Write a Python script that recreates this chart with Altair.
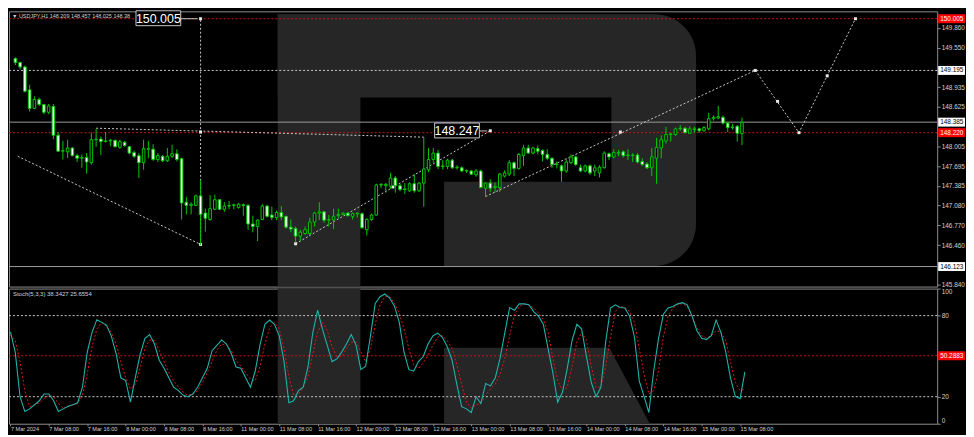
import json
import altair as alt
import pandas as pd

# ---------------- data ----------------
opens = [149.38, 149.32, 149.25, 148.89, 148.60, 148.74, 148.66, 148.54, 148.63, 148.18,
         147.93, 147.92, 147.98, 147.86, 147.82, 147.83, 147.75, 148.11, 148.12, 148.08,
         148.09, 148.10, 147.99, 148.07, 148.00, 147.91, 147.86, 147.75, 147.96, 147.96,
         147.80, 147.85, 147.78, 147.85, 147.89, 147.81, 147.13, 147.08, 147.08, 147.23,
         146.96, 146.86, 147.02, 147.17, 147.02, 147.07, 147.08, 147.05, 147.09, 147.08,
         146.79, 146.75, 146.86, 147.07, 146.93, 146.89, 146.97, 146.91, 146.74, 146.72,
         146.60, 146.64, 146.64, 146.82, 146.96, 146.98, 146.85, 146.85, 146.92, 146.94,
         146.96, 146.91, 146.95, 146.95, 146.70, 146.86, 146.93, 147.40, 147.39, 147.38,
         147.51, 147.39, 147.33, 147.31, 147.42, 147.31, 147.43, 147.64, 147.80, 147.90,
         147.69, 147.69, 147.79, 147.67, 147.67, 147.62, 147.62, 147.56, 147.62, 147.35,
         147.43, 147.36, 147.36, 147.54, 147.57, 147.75, 147.66, 147.86, 147.98, 147.90,
         147.97, 147.94, 147.88, 147.82, 147.72, 147.70, 147.62, 147.75, 147.84, 147.67,
         147.62, 147.70, 147.62, 147.59, 147.67, 147.89, 147.84, 147.89, 147.92, 147.86,
         147.86, 147.87, 147.77, 147.73, 147.67, 147.82, 147.98, 148.09, 148.19, 148.19,
         148.28, 148.29, 148.21, 148.27, 148.28, 148.25, 148.28, 148.44, 148.45, 148.46,
         148.37, 148.30, 148.32, 148.209]
highs = [149.40, 149.33, 149.27, 148.97, 148.79, 148.77, 148.67, 148.67, 148.67, 148.23,
         148.09, 148.11, 147.99, 147.89, 147.88, 147.90, 148.22, 148.28, 148.16, 148.23,
         148.12, 148.11, 148.11, 148.09, 148.01, 147.94, 147.90, 148.11, 148.09, 148.04,
         147.90, 147.87, 147.98, 148.03, 147.96, 147.83, 147.21, 147.13, 147.25, 147.48,
         147.03, 147.24, 147.25, 147.18, 147.13, 147.15, 147.11, 147.12, 147.11, 147.10,
         146.92, 146.86, 147.10, 147.09, 147.06, 147.00, 147.07, 146.92, 146.86, 146.75,
         146.70, 146.75, 146.89, 146.98, 147.13, 146.99, 146.93, 147.03, 147.03, 146.97,
         146.97, 146.97, 146.96, 146.97, 146.88, 146.95, 147.42, 147.43, 147.43, 147.59,
         147.54, 147.42, 147.43, 147.44, 147.57, 147.45, 148.15, 147.98, 147.98, 147.95,
         147.79, 147.81, 147.81, 147.71, 147.69, 147.64, 147.63, 147.65, 147.64, 147.44,
         147.49, 147.44, 147.59, 147.63, 147.79, 147.77, 147.90, 148.03, 148.03, 148.00,
         148.02, 147.96, 147.96, 147.83, 147.77, 147.72, 147.80, 147.88, 147.86, 147.72,
         147.72, 147.72, 147.72, 147.71, 147.93, 147.91, 147.96, 147.95, 147.94, 147.96,
         147.90, 147.90, 147.82, 147.76, 147.98, 148.14, 148.18, 148.31, 148.22, 148.30,
         148.34, 148.31, 148.32, 148.31, 148.30, 148.32, 148.53, 148.49, 148.64, 148.49,
         148.39, 148.36, 148.34, 148.457]
lows = [149.28, 149.21, 148.85, 148.55, 148.59, 148.64, 148.51, 148.51, 148.12, 147.92,
        147.80, 147.82, 147.85, 147.76, 147.67, 147.58, 147.72, 148.00, 147.87, 148.07,
        148.01, 147.99, 147.97, 148.00, 147.88, 147.82, 147.51, 147.64, 147.82, 147.78,
        147.76, 147.76, 147.76, 147.82, 147.77, 146.86, 146.94, 146.94, 147.07, 146.46,
        146.67, 146.84, 147.01, 147.01, 146.98, 147.02, 147.02, 147.03, 146.92, 146.70,
        146.66, 146.52, 146.85, 146.89, 146.85, 146.85, 146.85, 146.72, 146.66, 146.50,
        146.52, 146.62, 146.61, 146.75, 146.85, 146.81, 146.75, 146.71, 146.88, 146.92,
        146.91, 146.86, 146.89, 146.72, 146.61, 146.84, 146.92, 147.35, 147.28, 147.34,
        147.28, 147.30, 147.26, 147.29, 147.28, 147.29, 147.06, 147.60, 147.75, 147.65,
        147.64, 147.65, 147.65, 147.64, 147.61, 147.59, 147.56, 147.53, 147.35, 147.21,
        147.29, 147.28, 147.29, 147.52, 147.54, 147.54, 147.64, 147.70, 147.89, 147.88,
        147.88, 147.77, 147.79, 147.67, 147.66, 147.45, 147.59, 147.73, 147.70, 147.60,
        147.60, 147.56, 147.54, 147.52, 147.66, 147.79, 147.82, 147.85, 147.83, 147.79,
        147.76, 147.74, 147.70, 147.65, 147.54, 147.42, 147.82, 148.05, 148.08, 148.17,
        148.25, 148.21, 148.20, 148.22, 148.22, 148.24, 148.26, 148.41, 148.43, 148.35,
        148.23, 148.27, 148.08, 148.025]
closes = [149.32, 149.25, 148.87, 148.60, 148.74, 148.66, 148.54, 148.64, 148.18, 147.93,
          147.94, 147.98, 147.86, 147.82, 147.83, 147.76, 148.11, 148.12, 148.08, 148.09,
          148.10, 148.00, 148.08, 148.02, 147.90, 147.85, 147.75, 147.97, 147.97, 147.80,
          147.86, 147.78, 147.85, 147.89, 147.80, 147.12, 147.08, 147.10, 147.23, 146.94,
          146.88, 147.03, 147.17, 147.02, 147.07, 147.08, 147.09, 147.10, 147.08, 146.79,
          146.75, 146.85, 147.07, 146.91, 146.89, 146.97, 146.90, 146.74, 146.71, 146.60,
          146.66, 146.70, 146.82, 146.96, 146.98, 146.85, 146.86, 146.91, 146.94, 146.96,
          146.92, 146.95, 146.96, 146.73, 146.86, 146.93, 147.40, 147.41, 147.41, 147.51,
          147.39, 147.33, 147.34, 147.42, 147.31, 147.43, 147.65, 147.80, 147.90, 147.69,
          147.70, 147.79, 147.67, 147.68, 147.62, 147.63, 147.57, 147.62, 147.36, 147.43,
          147.35, 147.38, 147.57, 147.59, 147.75, 147.66, 147.88, 147.98, 147.90, 147.98,
          147.93, 147.88, 147.82, 147.72, 147.73, 147.62, 147.76, 147.84, 147.72, 147.62,
          147.70, 147.59, 147.67, 147.68, 147.90, 147.84, 147.91, 147.91, 147.86, 147.87,
          147.87, 147.76, 147.72, 147.67, 147.84, 147.99, 148.11, 148.19, 148.20, 148.28,
          148.29, 148.22, 148.28, 148.28, 148.25, 148.30, 148.44, 148.46, 148.47, 148.37,
          148.30, 148.31, 148.21, 148.38]

stoch_main = [68, 53, 20, 9, 11, 14, 17, 22, 22, 17,
              9, 11, 13, 14, 15.5, 27, 53, 67.6, 77, 75,
              73, 65, 52, 34, 32, 16, 34, 51, 63, 66,
              59, 47, 41, 34, 27, 24.5, 21, 20, 22, 27,
              34, 41, 54, 58, 62, 59, 52, 42, 41, 34,
              27, 39, 58.5, 73.6, 76.7, 73.6, 65, 46, 15.5, 17,
              24.5, 27, 42.5, 67.6, 84, 70, 58, 46, 48, 53,
              59, 66, 58, 40, 42.5, 65, 89, 94, 96, 93,
              87, 75, 53, 40, 39, 46, 49.7, 59, 65, 67,
              64, 57, 47, 29, 12.6, 11, 8.3, 20, 15, 29.8,
              28, 34, 48.5, 67.6, 86, 84, 88.7, 88.7, 88, 83,
              79.6, 73.6, 55.6, 37.7, 16, 23.3, 41, 61.6, 73.6, 70,
              49.7, 30.5, 20, 27, 60.4, 85.6, 88, 86, 85.6, 79.6,
              64, 31.7, 20, 8.3, 39, 62.8, 80.8, 85.6, 86.7, 88.7,
              89.6, 88, 79.6, 68.8, 63.3, 62.3, 65.2, 76.7, 67.6, 53.3,
              34, 20.2, 18.6, 38.3427]
stoch_signal = [66, 61.6, 46, 24.5, 12.6, 14, 15.5, 18.6, 21, 20,
                15, 11.4, 12.6, 14, 15, 21, 36.5, 57, 70, 75,
                72, 67.6, 59, 46, 34, 25.7, 29, 41, 55.6, 62,
                61.6, 54.4, 46, 37.7, 31.7, 27, 23.3, 21, 22, 24.5,
                30.5, 37.7, 46, 54.4, 59, 58, 54.4, 47, 42.5, 37.7,
                33, 31.7, 42.5, 59, 71, 75, 70, 55.6, 35, 21,
                22, 27, 35, 52, 67.6, 75, 69, 57, 49.7, 49.7,
                55.6, 60.4, 60.4, 53, 46, 55.6, 73.6, 88, 94, 94,
                89, 82, 70, 55.6, 43.7, 41, 45, 51, 58, 64,
                65, 61.6, 55.6, 43.7, 29, 16, 11.4, 14, 15, 21,
                25.7, 29.3, 36.5, 48.5, 65.2, 80.8, 86.7, 88.7, 88, 85.6,
                82, 77.2, 67.6, 48.5, 31.7, 24.5, 27, 42.5, 60.4, 67.6,
                61.6, 42.5, 27, 27, 42.5, 64, 83, 86.7, 86, 83,
                74.8, 55.6, 36.5, 22, 24.5, 39, 64, 79.6, 85.6, 88,
                89, 86.7, 79.6, 71.2, 65.2, 63.3, 65.2, 68.8, 68, 61.6,
                46, 30.5, 24.5, 25.6554]

time_labels = ["7 Mar 2024", "7 Mar 08:00", "7 Mar 16:00", "8 Mar 00:00", "8 Mar 08:00",
               "8 Mar 16:00", "11 Mar 00:00", "11 Mar 08:00", "11 Mar 16:00", "12 Mar 00:00",
               "12 Mar 08:00", "12 Mar 16:00", "13 Mar 00:00", "13 Mar 08:00", "13 Mar 16:00",
               "14 Mar 00:00", "14 Mar 08:00", "14 Mar 16:00", "15 Mar 00:00", "15 Mar 08:00"]
label_every = 8

price_ticks = [149.860, 149.550, 148.935, 148.625, 148.005, 147.695, 147.385,
               147.080, 146.770, 146.460, 145.840]
stoch_ticks = [0, 20, 80, 100]

red_levels = [150.005, 148.220]
dash_levels = [149.195]
solid_levels = [148.385, 146.123]
stoch_dash_levels = [20, 80]
stoch_red_level = [50.2883]

header_text = ["\u25bc USDJPY,H1 148.209 148.457 148.025 148.38"]
stoch_text = ["Stoch(5,3,3) 38.3427 25.6554"]

# drawn objects (bar index, price)
trend_id = ["a", "a", "b", "b", "c", "c", "d", "d", "e", "e", "e"]
trend_x = [0.5, 39, 17, 86, 59, 100, 99, 155.8, 155.8, 165, 176.9]
trend_p = [147.85, 146.47, 148.29, 148.15, 146.48, 148.25, 147.22, 149.195, 149.195, 148.22, 150.005]
marker_x = [39, 39, 39, 59, 79.5, 100, 127.4, 155.8, 160.5, 165, 170.95, 176.9]
marker_p = [146.47, 148.23, 150.005, 146.48, 147.37, 148.25, 148.23, 149.195, 148.71, 148.22, 149.11, 150.005]
vline_x = [39]
vline_lo = [146.47]
vline_hi = [150.005]
callout1 = {"i": [39], "p": [150.005]}
callout2 = {"i": [100], "p": [148.247]}

# ---------------- styling / layout ----------------
W, H1, H2 = 934, 277, 136
X_DOM = [-0.3, 193.06]
P_DOM = [145.809, 150.121]
FONT = "Liberation Sans"
GREEN = "#00c800"
LAB = "#d2d2d2"
AXC = "#8c8c8c"
RED = "#c81414"
REDBOX = "#ff0000"
DOT = "#c8c8c8"
WM = "#262626"
TEAL = "#20b2aa"
FS = 6.5
FS_T = 5.6

n = len(opens)
candles = pd.DataFrame({"i": list(range(n)), "open": opens, "high": highs,
                        "low": lows, "close": closes})
stoch = pd.DataFrame({"i": list(range(n)), "k": stoch_main, "d": stoch_signal})
one = pd.DataFrame({"k": [0]})

xs = alt.Scale(domain=X_DOM, nice=False, zero=False)
ps = alt.Scale(domain=P_DOM, nice=False, zero=False)
ss = alt.Scale(domain=[0, 100], nice=False, zero=False)

price_axis = alt.Axis(orient="right", values=price_ticks, format=".3f", title=None, grid=False,
                      domain=False, tickSize=3, tickColor=AXC, labelColor=LAB, labelFontSize=FS,
                      labelFont=FONT, labelPadding=1, labelOverlap=False, labelBound=False,
                      labelFlush=False)
stoch_axis = alt.Axis(orient="right", values=stoch_ticks, format="d", title=None, grid=False,
                      domain=False, tickSize=3, tickColor=AXC, labelColor=LAB, labelFontSize=FS,
                      labelFont=FONT, labelPadding=1, labelOverlap=False, labelFlush=True)
time_axis = alt.Axis(values=list(range(0, label_every * len(time_labels), label_every)),
                     labelExpr=json.dumps(time_labels) + "[round(datum.value/" + str(label_every) + ")]",
                     labelAlign="left", labelFlush=False, labelOverlap=False, labelBound=False,
                     title=None, grid=False, domain=False, tickSize=2, tickColor=AXC,
                     labelColor=LAB, labelFontSize=FS_T, labelFont=FONT, labelPadding=1)


def PX(f):
    return alt.X(f, type="quantitative", scale=xs, axis=None, title=None)


def SX(f):
    return alt.X(f, type="quantitative", scale=xs, axis=time_axis, title=None)


def PY(f):
    return alt.Y(f, type="quantitative", scale=ps, axis=price_axis, title=None)


def SY(f):
    return alt.Y(f, type="quantitative", scale=ss, axis=stoch_axis, title=None)


def wm_rect(x0, x1, y0, y1, **kw):
    return alt.Chart(one).mark_rect(color=WM, **kw).encode(
        x=alt.value(x0), x2=alt.value(x1), y=alt.value(y0), y2=alt.value(y1))


# ---------------- top panel ----------------
sx, sy = W / 943.0, H1 / 281.0
wm_top = [
    wm_rect((275 - 2) * sx, (359 - 2) * sx, (5 - 2) * sy, H1),
    wm_rect((275 - 2) * sx, (700 - 2) * sx, (5 - 2) * sy, (90 - 2) * sy, cornerRadiusTopRight=76),
    wm_rect((614 - 2) * sx, (700 - 2) * sx, (86 - 2) * sy, (180 - 2) * sy),
    wm_rect((444 - 2) * sx, (700 - 2) * sx, (176 - 2) * sy, (262 - 2) * sy, cornerRadiusBottomRight=80),
]

lv_red = alt.Chart(pd.DataFrame({"p": red_levels})).mark_rule(
    color=RED, strokeDash=[2, 2], strokeWidth=1).encode(y=PY("p"))
lv_dash = alt.Chart(pd.DataFrame({"p": dash_levels})).mark_rule(
    color=DOT, strokeDash=[2, 2], strokeWidth=1).encode(y=PY("p"))
lv_solid = alt.Chart(pd.DataFrame({"p": solid_levels})).mark_rule(
    color="#9a9a9a", strokeWidth=1).encode(y=PY("p"))

vline = alt.Chart(pd.DataFrame({"i": vline_x, "lo": vline_lo, "hi": vline_hi})).mark_rule(
    color=DOT, strokeDash=[2, 2], strokeWidth=1).encode(x=PX("i"), y=PY("lo"), y2="hi")

trend_df = pd.DataFrame({"id": trend_id, "x": trend_x, "p": trend_p,
                         "o": list(range(len(trend_x)))})
trend = alt.Chart(trend_df).mark_line(color=DOT, strokeDash=[2, 2], strokeWidth=1).encode(
    x=PX("x"), y=PY("p"), detail="id:N", order="o:Q")
markers = alt.Chart(pd.DataFrame({"x": marker_x, "p": marker_p})).mark_square(
    size=9, color="#e8e8e8", opacity=1).encode(x=PX("x"), y=PY("p"))

base = alt.Chart(candles).transform_calculate(
    dir="datum.close >= datum.open ? 'up' : 'down'")
wicks = base.mark_rule(color=GREEN, strokeWidth=1, clip=True).encode(
    x=PX("i"), y=PY("low"), y2="high")
bodies = base.mark_bar(size=2.6, stroke=GREEN, strokeWidth=1, clip=True).encode(
    x=PX("i"), y=PY("open"), y2="close",
    fill=alt.Fill("dir:N", scale=alt.Scale(domain=["up", "down"], range=["#000000", "#ffffff"]),
                  legend=None))

header = alt.Chart(pd.DataFrame({"t": header_text})).mark_text(
    align="left", baseline="middle", fontSize=5.5, font=FONT, color=LAB).encode(
    x=alt.value(3), y=alt.value(5), text="t:N")


def callout(d, left, right):
    df = pd.DataFrame(d)
    box = alt.Chart(df).mark_rect(fill="#000000", stroke="#c8c8c8", strokeWidth=1,
                                  xOffset=left, x2Offset=right, yOffset=-8, y2Offset=7).encode(
        x=PX("i"), x2="i", y=PY("p"), y2="p")
    conn = alt.Chart(df).mark_rule(color="#c8c8c8", strokeWidth=1, xOffset=right,
                                   x2Offset=-3).encode(x=PX("i"), x2="i", y=PY("p"))
    txt = alt.Chart(df).mark_text(align="center", baseline="middle", fontSize=12.5, font=FONT,
                                  color="#ffffff", dx=(left + right) / 2, dy=0).encode(
        x=PX("i"), y=PY("p"), text=alt.Text("p:Q", format=".3f"))
    return [conn, box, txt]


def right_box(vals, fill, tcolor, yfun):
    df = pd.DataFrame({"p": vals})
    box = alt.Chart(df).mark_rect(fill=fill, yOffset=-4.5, y2Offset=4.5).encode(
        x=alt.value(W + 1), x2=alt.value(W + 28), y=yfun("p"), y2="p")
    txt = alt.Chart(df).mark_text(align="left", baseline="middle", fontSize=FS, font=FONT,
                                  color=tcolor).encode(
        x=alt.value(W + 3), y=yfun("p"), text=alt.Text("p:Q", format=".3f"))
    return [box, txt]


top_layers = (wm_top + [lv_red, lv_dash, lv_solid, vline, trend, markers, wicks, bodies, header]
              + callout(callout1, -65, -20) + callout(callout2, -56, -11)
              + right_box(red_levels, REDBOX, "#ffffff", PY)
              + right_box(dash_levels + solid_levels, "#ffffff", "#000000", PY))
top = alt.layer(*top_layers).properties(width=W, height=H1)

# ---------------- stochastic panel ----------------
sx2, sy2 = W / 943.0, H2 / 139.0
leg_path = "M-1,-0.369L0.608,-0.369L1,0.369L-1,0.369Z"
wm_bot = [
    wm_rect((275 - 2) * sx2, (359 - 2) * sx2, 0, H2),
    alt.Chart(one).mark_point(shape=leg_path, filled=True, color=WM, opacity=1, strokeWidth=0,
                              size=((653 - 444) * sx2) ** 2).encode(
        x=alt.value((548.5 - 2) * sx2), y=alt.value((385 - 285) * sy2)),
]
s_dash = alt.Chart(pd.DataFrame({"v": stoch_dash_levels})).mark_rule(
    color=DOT, strokeDash=[2, 2], strokeWidth=1).encode(y=SY("v"))
s_red = alt.Chart(pd.DataFrame({"v": stoch_red_level})).mark_rule(
    color=RED, strokeDash=[2, 2], strokeWidth=1).encode(y=SY("v"))
k_line = alt.Chart(stoch).mark_line(color=TEAL, strokeWidth=1.1, clip=True).encode(
    x=SX("i"), y=SY("k"))
d_line = alt.Chart(stoch).mark_line(color="#e01818", strokeWidth=1, strokeDash=[2, 2],
                                    clip=True).encode(x=SX("i"), y=SY("d"))
s_head = alt.Chart(pd.DataFrame({"t": stoch_text})).mark_text(
    align="left", baseline="middle", fontSize=6, font=FONT, color=LAB).encode(
    x=alt.value(4), y=alt.value(5), text="t:N")
s_box_df = pd.DataFrame({"v": stoch_red_level})
s_box = alt.Chart(s_box_df).mark_rect(fill=REDBOX, yOffset=-4.5, y2Offset=4.5).encode(
    x=alt.value(W + 1), x2=alt.value(W + 28), y=SY("v"), y2="v")
s_box_t = alt.Chart(s_box_df).mark_text(align="left", baseline="middle", fontSize=FS, font=FONT,
                                        color="#ffffff").encode(
    x=alt.value(W + 3), y=SY("v"), text=alt.Text("v:Q", format=".4f"))

bottom = alt.layer(*(wm_bot + [s_dash, s_red, d_line, k_line, s_head, s_box, s_box_t])).properties(
    width=W, height=H2)

chart = alt.vconcat(top, bottom, spacing=2, bounds="flush").properties(
    padding=0, background="#000000"
).configure_view(stroke="#8c8c8c", strokeWidth=1, fill="#000000")

chart.save("out.html", embed_options={"renderer": "svg", "actions": False})
